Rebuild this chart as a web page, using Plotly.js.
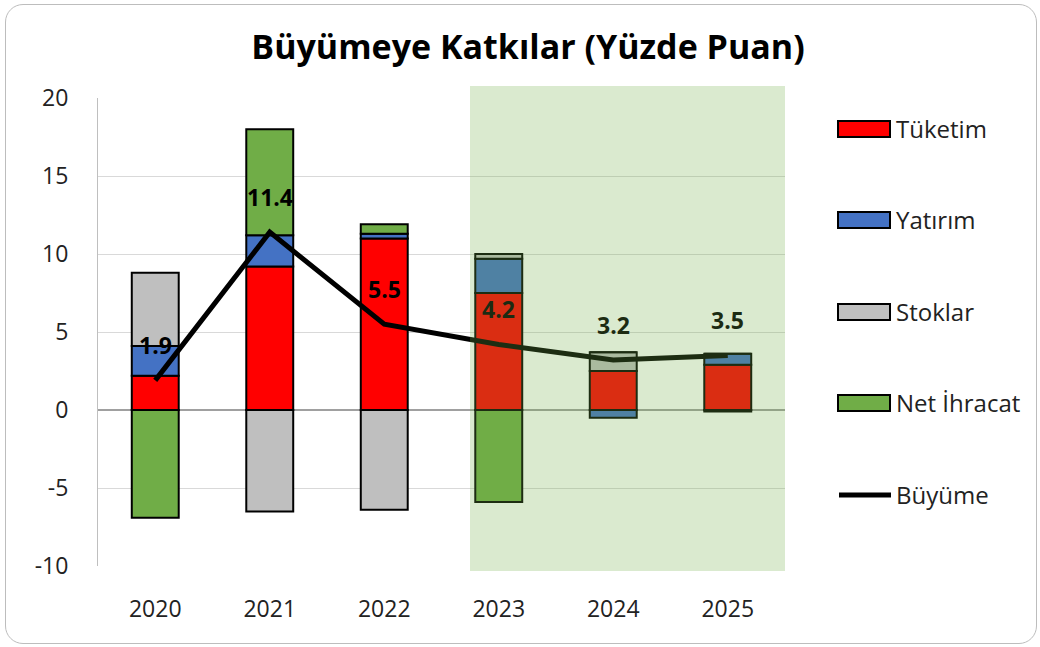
<!DOCTYPE html>
<html>
<head>
<meta charset="utf-8">
<script src="https://cdn.plot.ly/plotly-3.0.1.min.js"></script>
<style>
  html, body { margin: 0; padding: 0; background: #ffffff; }
  #wrap { position: relative; width: 1040px; height: 647px; }
  #chart { position: absolute; left: 0; top: 0; width: 1040px; height: 647px; }
  #frame { position: absolute; left: 5px; top: 4px; width: 1032px; height: 640px;
           box-sizing: border-box; border: 1.5px solid #BDBDBD; border-radius: 18px;
           pointer-events: none; }
</style>
</head>
<body>
<div id="wrap">
  <div id="chart"></div>
  <div id="frame"></div>
</div>
<script>
// ---- data ----
const years = ['2020', '2021', '2022', '2023', '2024', '2025'];
const seriesNames = ['Tüketim', 'Yatırım', 'Stoklar', 'Net İhracat'];
const tuketim    = [2.2, 9.2, 11.0, 7.5, 2.5, 2.9];
const yatirim    = [1.9, 2.0, 0.3, 2.2, -0.5, 0.7];
const stoklar    = [4.7, -6.5, -6.4, 0.3, 1.2, 0.0];
const netIhracat = [-6.9, 6.8, 0.6, -5.9, 0.0, -0.1];
const lineName = 'Büyüme';
const buyume     = [1.9, 11.4, 5.5, 4.2, 3.2, 3.5];
const titleText = 'Büyümeye Katkılar (Yüzde Puan)';
const yTicks = [-10, -5, 0, 5, 10, 15, 20];
const yTickText = ['-10', '-5', '0', '5', '10', '15', '20'];

// ---- styling ----
const colors = ['#FF0000', '#4472C4', '#BFBFBF', '#70AD47'];
const barSeries = [tuketim, yatirim, stoklar, netIhracat];
const FONT = '"Open Sans", "Noto Sans", sans-serif';

// plot area in pixels
const L = 98, R = 785, T = 98, B = 566;
const W = 1040, H = 647;
const px2x = p => (p - L) / (R - L);
const py2y = p => (B - p) / (B - T);

const traces = barSeries.map((vals, i) => ({
  type: 'bar',
  name: seriesNames[i],
  x: years,
  y: vals,
  width: 0.41,
  marker: { color: colors[i], line: { color: '#000000', width: 2 } },
  showlegend: false,
  hoverinfo: 'x+y+name'
}));

traces.push({
  type: 'scatter',
  mode: 'lines',
  name: lineName,
  x: years,
  y: buyume,
  line: { color: '#000000', width: 5 },
  showlegend: false
});

const shapes = [];
const annotations = [];

// shaded forecast region (drawn above the marks, translucent)
shapes.push({
  type: 'rect', xref: 'paper', yref: 'paper', layer: 'above',
  x0: px2x(470), x1: px2x(785), y0: py2y(571), y1: py2y(86),
  fillcolor: 'rgba(112,173,71,0.26)', line: { width: 0 }
});

// growth value labels (category axis: position by category index)
buyume.forEach((v, i) => {
  annotations.push({
    x: i, y: v, xref: 'x', yref: 'y',
    text: v.toFixed(1), showarrow: false, yshift: 35,
    font: { family: FONT, size: 23, color: i >= 3 ? '#1C2B12' : '#000000', weight: 'bold' }
  });
});

// custom legend
const legendY = [129, 220, 312, 403];
seriesNames.forEach((n, i) => {
  shapes.push({
    type: 'rect', xref: 'paper', yref: 'paper',
    x0: px2x(838), x1: px2x(890), y0: py2y(legendY[i] + 8), y1: py2y(legendY[i] - 8),
    fillcolor: colors[i], line: { color: '#000000', width: 2 }
  });
  annotations.push({
    xref: 'paper', yref: 'paper', x: px2x(894), y: py2y(legendY[i] - 1),
    xanchor: 'left', yanchor: 'middle', showarrow: false, text: n,
    font: { family: FONT, size: 24, color: '#222222' }
  });
});
shapes.push({
  type: 'line', xref: 'paper', yref: 'paper',
  x0: px2x(839), x1: px2x(891), y0: py2y(495), y1: py2y(495),
  line: { color: '#000000', width: 5 }
});
annotations.push({
  xref: 'paper', yref: 'paper', x: px2x(894), y: py2y(494),
  xanchor: 'left', yanchor: 'middle', showarrow: false, text: lineName,
  font: { family: FONT, size: 24, color: '#222222' }
});

const layout = {
  width: W, height: H,
  margin: { l: L, r: W - R, t: T, b: H - B, pad: 0 },
  paper_bgcolor: 'rgba(0,0,0,0)',
  plot_bgcolor: 'rgba(0,0,0,0)',
  barmode: 'relative',
  showlegend: false,
  title: {
    text: '<b>' + titleText + '</b>',
    xref: 'container', yref: 'container',
    x: 528 / W, y: 1 - 47 / H, xanchor: 'center', yanchor: 'middle',
    font: { family: FONT, size: 34, color: '#000000' }
  },
  xaxis: {
    type: 'category',
    range: [-0.5, years.length - 0.5],
    showgrid: false, zeroline: false, showline: false,
    ticks: 'outside', ticklen: 22, tickcolor: 'rgba(0,0,0,0)',
    tickfont: { family: FONT, size: 23, color: '#222222' },
    fixedrange: true
  },
  yaxis: {
    range: [-10, 20],
    tickmode: 'array',
    tickvals: yTicks,
    ticktext: yTickText,
    showgrid: true, gridcolor: '#D9D9D9', gridwidth: 1,
    zeroline: true, zerolinecolor: '#A0A0A0', zerolinewidth: 1.5,
    showline: true, linecolor: '#BFBFBF', linewidth: 1,
    ticks: 'outside', ticklen: 24, tickcolor: 'rgba(0,0,0,0)',
    tickfont: { family: FONT, size: 23, color: '#222222' },
    fixedrange: true
  },
  shapes: shapes,
  annotations: annotations,
  font: { family: FONT }
};

Plotly.newPlot('chart', traces, layout, { displayModeBar: false, staticPlot: true });
</script>
</body>
</html>
